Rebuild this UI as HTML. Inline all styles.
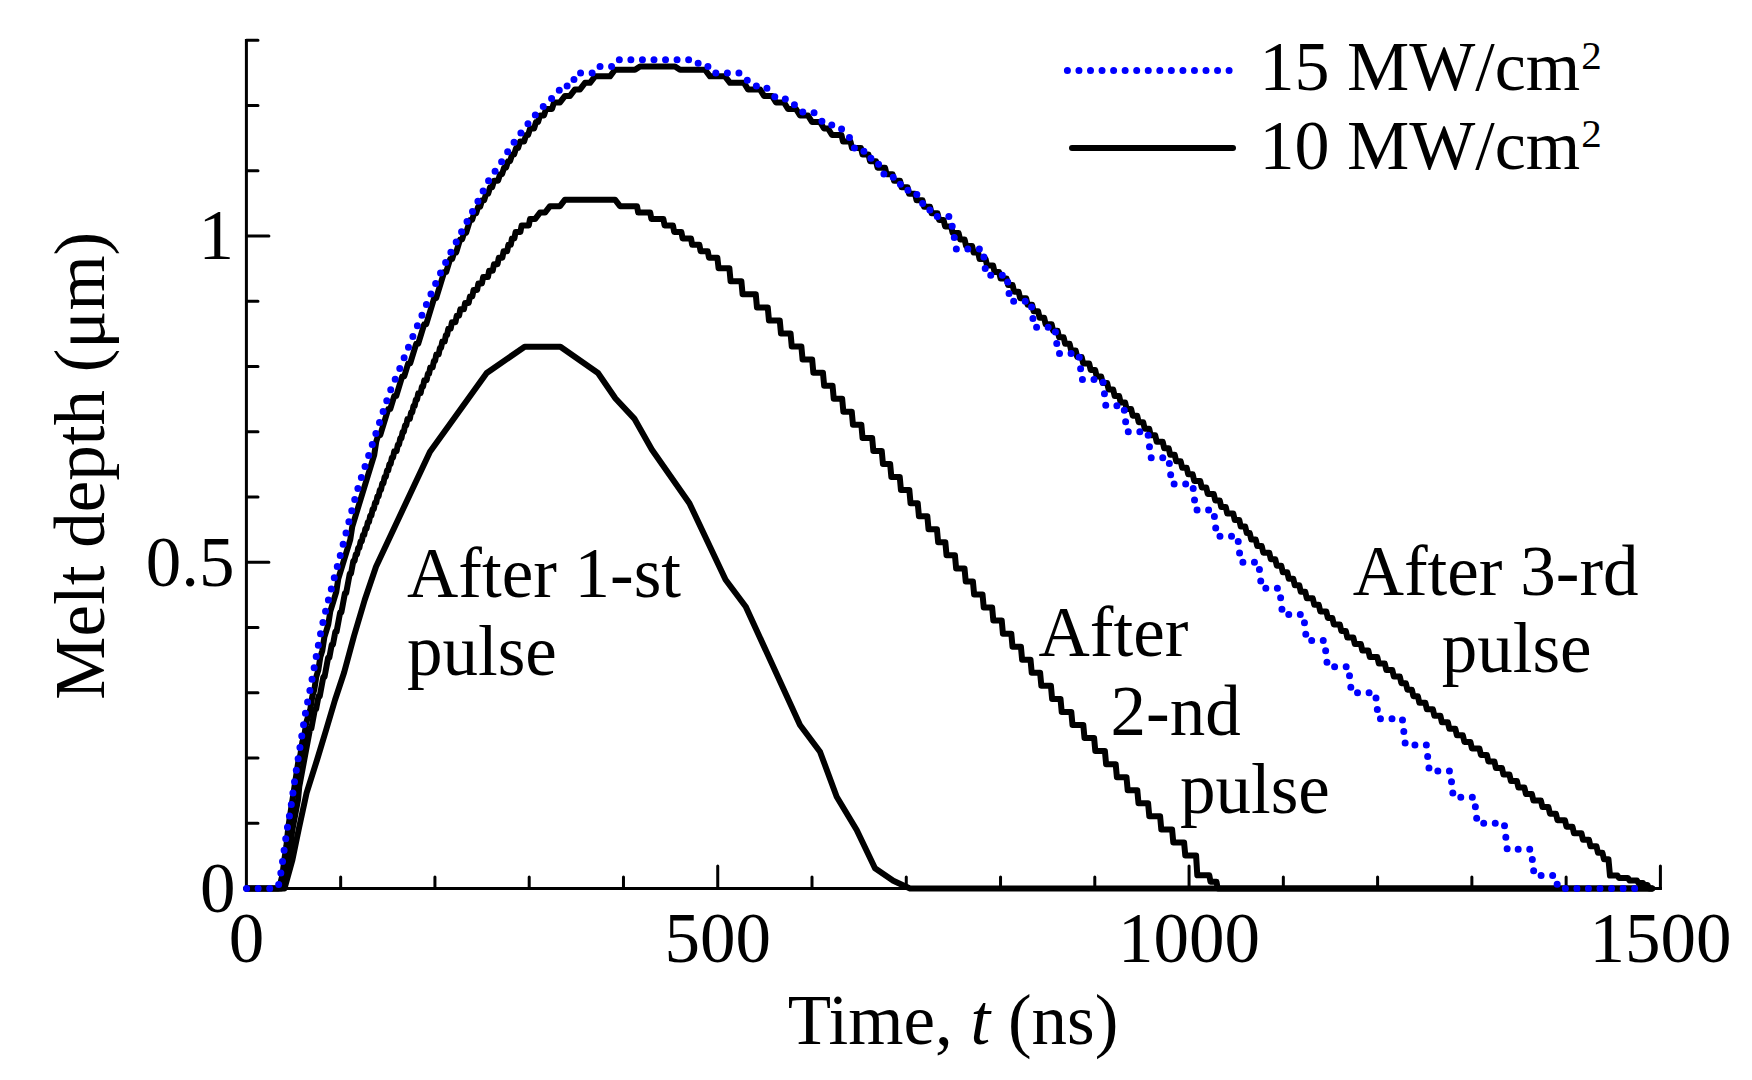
<!DOCTYPE html>
<html><head><meta charset="utf-8"><title>Melt depth vs time</title>
<style>html,body{margin:0;padding:0;background:#fff;}body{width:1752px;height:1080px;overflow:hidden;}svg{display:block;}</style>
</head><body>
<svg width="1752" height="1080" viewBox="0 0 1752 1080">
<rect width="1752" height="1080" fill="#fff"/>
<g fill="none" stroke="#000" stroke-linecap="round" stroke-linejoin="round">
<path d="M246.4 40.4V888.5H1660.4" stroke-width="3" stroke-linecap="square" stroke-linejoin="miter"/>
<path d="M246.4 823.25H258M246.4 758H258M246.4 692.75H258M246.4 627.5H258M246.4 562.25H268.9M246.4 497H258M246.4 431.75H258M246.4 366.5H258M246.4 301.25H258M246.4 236H268.9M246.4 170.75H258M246.4 105.5H258M246.4 40.25H258M340.67 888.5V876.9M434.93 888.5V876.9M529.2 888.5V876.9M623.47 888.5V876.9M717.74 888.5V866M812 888.5V876.9M906.27 888.5V876.9M1000.54 888.5V876.9M1094.8 888.5V876.9M1189.07 888.5V866M1283.34 888.5V876.9M1377.6 888.5V876.9M1471.87 888.5V876.9M1566.14 888.5V876.9M1660.4 888.5V866" stroke-width="3"/>
<path d="M246.4 888.5L284.5 888.5L292.4 860L299 828L306.6 792.8L317 760L326.1 730L335 700L344.2 672.3L354 636L364.7 600L376 566.7L430 451.7L486.7 373L524.7 346.7L560.4 346.7L598 373L615.5 398.5L634.3 418.6L651.8 449.5L689.4 503.2L725.6 579.8L745.8 606.7L800 725L820 751.7L836.7 796.7L856.7 830L875 868.3L893.3 880.7L910 888.5L1652 888.5" stroke-width="6"/>
<path d="M246.4 888.5L281.25 888.5L282.45 883.4L283.65 876.95L284.85 876.95L290.86 844.7L292.06 831.8L298.07 799.55L299.27 786.65L310.09 728.6L311.29 728.6L314.9 709.25L316.1 709.25L318.5 696.35L319.7 696.35L323.31 677L324.51 677L328.12 657.65L329.32 657.65L331.72 644.75L332.92 644.75L335.33 631.85L336.53 631.85L340.13 612.5L341.33 612.5L344.94 593.15L346.14 593.15L349.75 573.8L350.95 573.8L353.35 560.9L354.55 560.9L355.75 554.45L356.96 554.45L358.16 548L359.36 548L360.56 541.55L361.76 541.55L362.96 535.1L364.17 535.1L365.37 528.65L366.57 528.65L367.77 522.2L368.97 522.2L370.17 515.75L371.38 515.75L372.58 509.3L373.78 509.3L374.98 502.85L376.18 502.85L377.38 496.4L378.59 496.4L379.79 489.95L380.99 489.95L382.19 483.5L383.39 483.5L384.59 477.05L385.8 477.05L387 470.6L388.2 470.6L389.4 464.15L390.6 464.15L391.81 457.7L393.01 457.7L394.21 451.25L396.61 451.25L397.81 444.8L399.02 444.8L400.22 438.35L401.42 438.35L402.62 431.9L403.82 431.9L405.02 425.45L406.23 425.45L407.43 419L409.83 419L411.03 412.55L412.23 412.55L413.44 406.1L414.64 406.1L415.84 399.65L417.04 399.65L418.24 393.2L420.65 393.2L421.85 386.75L423.05 386.75L424.25 380.3L426.65 380.3L427.86 373.85L429.06 373.85L430.26 367.4L432.66 367.4L433.86 360.95L435.07 360.95L436.27 354.5L438.67 354.5L439.87 348.05L441.07 348.05L442.28 341.6L444.68 341.6L445.88 335.15L447.08 335.15L448.28 328.7L450.69 328.7L451.89 322.25L455.49 322.25L456.7 315.8L459.1 315.8L460.3 309.35L463.91 309.35L465.11 302.9L468.71 302.9L469.92 296.45L472.32 296.45L473.52 290L477.13 290L478.33 283.55L481.93 283.55L483.13 277.1L487.94 277.1L489.14 270.65L492.75 270.65L493.95 264.2L497.55 264.2L498.76 257.75L502.36 257.75L503.56 251.3L507.17 251.3L508.37 244.85L510.77 244.85L511.97 238.4L514.38 238.4L515.58 231.95L520.39 231.95L521.59 225.5L528.8 225.5L530 219.05L535 219.05L540 212.6L545 212.6L550 206.15L560 206.15L565 199.7L615 199.7L620 206.15L637 206.15L638.2 212.6L650.2 212.6L651.39 219.05L663.39 219.05L664.59 225.5L672.99 225.5L674.19 231.95L681.39 231.95L682.59 238.4L690.99 238.4L692.19 244.85L699.39 244.85L700.59 251.3L707.78 251.3L708.98 257.75L717.38 257.75L718.58 268.25L729.38 268.25L730.58 281.3L741.38 281.3L742.58 294.35L755.77 294.35L756.97 307.4L767.77 307.4L768.97 320.45L779.77 320.45L780.97 333.5L790.57 333.5L791.77 346.55L801.37 346.55L802.57 359.6L812.16 359.6L813.36 372.65L822.96 372.65L824.16 385.7L832.56 385.7L833.76 398.75L842.16 398.75L843.36 411.8L851.76 411.8L852.96 424.85L861.35 424.85L862.55 437.9L872.15 437.9L873.35 450.95L881.75 450.95L882.95 464L890.15 464L891.35 477.05L899.75 477.05L900.95 490.1L909.34 490.1L910.54 503.15L917.74 503.15L918.94 516.2L927.34 516.2L928.54 529.25L936.94 529.25L938.14 542.3L945.34 542.3L946.54 555.35L954.94 555.35L956.14 568.4L964.53 568.4L965.73 581.45L972.93 581.45L974.13 594.5L982.53 594.5L983.73 607.55L992.13 607.55L993.33 620.6L1001.73 620.6L1002.93 633.65L1011.32 633.65L1012.52 646.7L1020.92 646.7L1022.12 659.75L1030.52 659.75L1031.72 672.8L1040.12 672.8L1041.32 685.85L1050.92 685.85L1052.12 698.9L1060.52 698.9L1061.71 711.95L1071.31 711.95L1072.51 725L1083.31 725L1084.51 738.05L1094.11 738.05L1095.31 751.1L1104.91 751.1L1106.11 764.15L1115.7 764.15L1116.9 777.2L1126.5 777.2L1127.7 790.25L1137.3 790.25L1138.5 803.3L1148.1 803.3L1149.3 816.35L1160.1 816.35L1161.3 829.4L1172.09 829.4L1173.29 842.45L1184.09 842.45L1185.29 855.5L1196.09 855.5L1197.29 875.3L1209.29 875.3L1210.49 881.7L1216.48 881.7L1217.68 888.5L1652 888.5" stroke-width="6"/>
<path d="M246.4 888.5L278.36 888.5L280.36 883L282.35 875.6L284.35 859.33L286.35 846.27L288.35 826.7L298.33 761.45L300.33 754.92L302.33 741.88L304.33 735.35L306.32 722.3L310.32 709.25L312.32 696.2L314.31 689.67L316.31 676.62L318.31 670.1L320.31 657.05L322.3 650.52L324.3 637.48L328.3 624.42L330.29 611.38L336.29 591.8L338.28 578.75L350.27 539.6L352.26 526.55L374.24 454.78L376.23 441.73L378.23 435.2L380.23 435.2L388.22 409.1L390.22 409.1L394.21 396.05L396.21 396.05L402.2 376.48L404.2 376.48L408.19 363.43L410.19 363.43L416.18 343.85L418.18 343.85L424.17 324.28L426.17 324.28L434.16 298.18L436.16 298.18L444.15 272.07L446.15 272.07L450.14 259.03L452.14 259.03L454.14 252.5L456.13 252.5L460.13 239.45L462.12 239.45L464.12 232.93L466.12 232.93L470.11 219.88L472.11 219.88L474.11 213.35L476.11 213.35L478.1 206.82L480.1 206.82L482.1 200.3L484.1 200.3L486.09 193.78L488.09 193.78L490.09 187.25L492.09 187.25L494.08 180.73L498.08 180.73L500.08 174.2L502.07 174.2L504.07 167.68L506.07 167.68L508.07 161.15L510.06 161.15L512.06 154.62L514.06 154.62L516.06 148.1L518.05 148.1L520.05 141.57L524.05 141.57L526.04 135.05L528.04 135.05L530.04 128.53L534.03 128.53L536.03 122L538.03 122L540.03 115.47L544.02 115.47L546.02 108.95L552.01 108.95L554.01 102.42L560 102.42L565 95.9L570 95.9L575 89.38L580 89.38L585 82.85L590 82.85L595 76.33L610 76.33L615 69.8L635 69.8L640 66.5L675 66.5L680 69.8L705 69.8L710 76.33L725 76.33L730 82.85L744 82.85L748 89.38L760 89.38L764 95.9L772 95.9L776 102.42L784 102.42L788 108.95L796 108.95L800 115.47L808 115.47L812 122L820 122L824 128.53L828 128.53L832 135.05L841.5 135.05L843 141.57L850.51 141.57L852.01 148.1L861.01 148.1L862.51 154.62L868.52 154.62L870.02 161.15L876.02 161.15L877.52 167.68L885.03 167.68L886.53 174.2L892.53 174.2L894.03 180.73L900.04 180.73L901.54 187.25L907.54 187.25L909.04 193.78L915.05 193.78L916.55 200.3L922.55 200.3L924.05 206.82L930.06 206.82L931.56 213.35L937.56 213.35L939.06 219.88L943.56 219.88L945.06 226.4L951.07 226.4L952.57 232.93L958.57 232.93L960.07 239.45L964.58 239.45L966.08 245.98L972.08 245.98L973.58 252.5L978.09 252.5L979.59 259.03L985.59 259.03L987.09 265.55L993.09 265.55L994.6 272.07L999.1 272.07L1000.6 278.6L1006.6 278.6L1008.1 285.12L1012.61 285.12L1014.11 291.65L1018.61 291.65L1020.11 298.18L1026.11 298.18L1027.62 304.7L1032.12 304.7L1033.62 311.23L1038.12 311.23L1039.62 317.75L1044.13 317.75L1045.63 324.28L1051.63 324.28L1053.13 330.8L1057.63 330.8L1059.13 337.33L1063.64 337.33L1065.14 343.85L1069.64 343.85L1071.14 350.38L1075.65 350.38L1077.15 356.9L1081.65 356.9L1083.15 363.43L1089.15 363.43L1090.65 369.95L1095.16 369.95L1096.66 376.48L1101.16 376.48L1102.66 383L1107.16 383L1108.67 389.53L1113.17 389.53L1114.67 396.05L1119.17 396.05L1120.67 402.58L1125.18 402.58L1126.68 409.1L1131.18 409.1L1132.68 415.63L1137.18 415.63L1138.68 422.15L1143.19 422.15L1144.69 428.68L1149.19 428.68L1150.69 435.2L1155.19 435.2L1156.7 441.73L1162.7 441.73L1164.2 448.25L1168.7 448.25L1170.2 454.78L1174.71 454.78L1176.21 461.3L1180.71 461.3L1182.21 467.83L1186.71 467.83L1188.21 474.35L1192.72 474.35L1194.22 480.88L1200.22 480.88L1201.72 487.4L1206.23 487.4L1207.73 493.93L1213.73 493.93L1215.23 500.45L1219.73 500.45L1221.23 506.98L1225.74 506.98L1227.24 513.5L1233.24 513.5L1234.74 520.02L1239.25 520.02L1240.75 526.55L1245.25 526.55L1246.75 533.08L1249.75 533.08L1251.25 539.6L1255.76 539.6L1257.26 546.12L1261.76 546.12L1263.26 552.65L1269.26 552.65L1270.77 559.17L1275.27 559.17L1276.77 565.7L1281.27 565.7L1282.77 572.23L1287.28 572.23L1288.78 578.75L1293.28 578.75L1294.78 585.27L1299.28 585.27L1300.78 591.8L1305.29 591.8L1306.79 598.32L1312.79 598.32L1314.29 604.85L1318.79 604.85L1320.3 611.38L1326.3 611.38L1327.8 617.9L1332.3 617.9L1333.8 624.42L1339.81 624.42L1341.31 630.95L1345.81 630.95L1347.31 637.48L1353.32 637.48L1354.82 644L1360.82 644L1362.32 650.52L1368.33 650.52L1369.83 657.05L1377.33 657.05L1378.83 663.57L1384.84 663.57L1386.34 670.1L1392.34 670.1L1393.84 676.62L1399.84 676.62L1401.35 683.15L1405.85 683.15L1407.35 689.67L1411.85 689.67L1413.35 696.2L1417.86 696.2L1419.36 702.73L1425.36 702.73L1426.86 709.25L1432.87 709.25L1434.37 715.77L1440.37 715.77L1441.87 722.3L1447.87 722.3L1449.38 728.83L1455.38 728.83L1456.88 735.35L1462.88 735.35L1464.38 741.88L1470.39 741.88L1471.89 748.4L1479.39 748.4L1480.89 754.92L1486.9 754.92L1488.4 761.45L1494.4 761.45L1495.9 767.98L1501.91 767.98L1503.41 774.5L1509.41 774.5L1510.91 781.02L1516.92 781.02L1518.42 787.55L1524.42 787.55L1525.92 794.08L1531.93 794.08L1533.43 800.6L1540.93 800.6L1542.43 807.12L1548.44 807.12L1549.94 813.65L1555.94 813.65L1557.44 820.17L1564.95 820.17L1566.45 826.7L1572.45 826.7L1573.95 833.23L1581.46 833.23L1582.96 839.75L1588.96 839.75L1590.46 846.27L1596.47 846.27L1597.97 852.8L1602.47 852.8L1603.97 859.33L1608.47 859.33L1609.97 875.6L1617.48 875.6L1618.98 878L1627.99 878L1629.49 880.6L1636.99 880.6L1638.49 883L1642.99 883L1644.5 885L1647.5 885L1649 888.5L1652 888.5" stroke-width="6"/>
<path d="M246.6 888.5L275.64 888.5L276.64 888.48L277.64 887.11L278.64 884.6L279.64 880.1L280.64 874.23L281.64 867.87L282.65 860.7L283.65 853.39L284.65 846.37L285.65 839.31L286.65 832.44L287.65 826.01L288.65 820.16L289.65 814.53L290.66 808.7L291.66 802.23L292.66 795L293.66 787.59L294.66 780.66L295.66 774.22L296.66 768L297.67 761.8L301.67 736.56L302.67 730.12L303.67 723.66L304.67 717.46L305.68 711.77L306.68 706.52L307.68 701.52L308.68 696.61L309.68 691.63L310.68 686.46L311.68 681.16L312.68 675.77L313.69 670.32L315.69 659.35L316.69 653.89L317.69 648.5L318.69 643.19L319.69 638L320.69 632.97L321.7 628.11L322.7 623.46L323.7 619.03L324.7 614.78L325.7 610.67L326.7 606.67L327.7 602.76L328.7 598.9L330.71 591.22L331.71 587.36L332.71 583.55L333.71 579.8L335.71 572.38L337.72 564.98L338.72 561.24L339.72 557.47L340.72 553.64L341.72 549.77L343.72 541.96L345.73 534.11L346.73 530.21L347.73 526.34L349.73 518.66L351.73 510.92L352.74 507.07L353.74 503.26L354.74 499.52L355.74 495.86L356.74 492.31L357.74 488.89L358.74 485.58L359.74 482.38L360.75 479.25L361.75 476.18L362.75 473.17L365.75 464.25L366.75 461.27L367.75 458.25L372.76 442.97L374.76 436.88L376.77 430.81L379.77 421.78L381.77 415.69L383.78 409.58L384.78 406.56L385.78 403.57L386.78 400.63L387.78 397.76L388.78 394.97L389.78 392.27L390.78 389.68L391.79 387.18L392.79 384.75L393.79 382.39L394.79 380.07L397.79 373.19L398.79 370.86L399.8 368.49L400.8 366.07L402.8 361.16L407.81 348.74L409.81 343.81L410.81 341.37L411.81 338.95L412.81 336.56L414.81 331.85L419.82 320.2L421.82 315.49L423.83 310.72L426.83 303.54L427.83 301.17L428.83 298.83L429.83 296.51L431.84 291.94L433.84 287.42L435.84 282.96L436.84 280.76L437.84 278.59L438.85 276.44L439.85 274.32L440.85 272.23L441.85 270.16L443.85 266.09L445.85 262.08L447.86 258.13L449.86 254.22L452.86 248.42L458.87 236.91L460.87 233.1L462.88 229.33L465.88 223.74L471.89 212.6L474.89 207L476.89 203.22L478.9 199.41L479.9 197.45L480.9 195.44L482.9 191.35L483.9 189.32L484.9 187.33L485.91 185.4L486.91 183.55L487.91 181.82L488.91 180.18L489.91 178.61L490.91 177.1L491.91 175.64L492.91 174.22L496.92 168.66L497.92 167.25L498.92 165.81L499.92 164.32L500.92 162.78L501.93 161.2L502.93 159.59L506.93 153.03L507.93 151.41L508.93 149.81L509.94 148.25L510.94 146.74L511.94 145.27L512.94 143.82L514.94 140.99L516.95 138.22L518.95 135.52L520.95 132.86L522.95 130.24L525.96 126.35L527.96 123.79L529.96 121.27L531.96 118.81L532.97 117.61L533.97 116.43L534.97 115.27L535.97 114.15L537.97 111.95L539.97 109.83L541.98 107.77L543.98 105.77L545.98 103.81L547.98 101.89L549.99 100.01L551.99 98.16L553.99 96.34L555.99 94.56L558 92.81L559 91.95L560 85.95L572 85.95L576 72.9L596 72.9L600 66.4L612 66.4L616 59.7L696 59.7L700 66.4L708 66.4L712 72.9L740.36 72.9L752.55 85.95L764.73 85.95L776.91 99L789.09 99L801.27 112.05L813.45 112.05L825.64 125.1L837.82 125.1L850 138.15L855.91 151.2L867.73 151.2L873.64 164.25L879.55 164.25L885.45 177.3L897.27 177.3L903.18 190.35L915 190.35L920.91 203.4L926.82 203.4L932.73 216.45L950.45 216.45L956.36 249.05L983 249.05L985.99 275.15L1006.96 275.15L1009.95 301.25L1030.92 301.25L1033.92 327.35L1054.89 327.35L1057.88 353.45L1078.85 353.45L1081.85 379.55L1102.82 379.55L1105.81 405.65L1123.78 405.65L1126.78 431.75L1147.75 431.75L1150.74 457.85L1168.72 457.85L1171.71 483.95L1192.68 483.95L1195.68 510.05L1213.65 510.05L1216.64 536.15L1237.61 536.15L1240.61 562.25L1258.58 562.25L1261.58 588.35L1279.55 588.35L1282.55 614.45L1303.51 614.45L1306.51 640.55L1324.48 640.55L1327.48 666.65L1348.45 666.65L1351.44 692.75L1375.41 692.75L1378.4 718.85L1402.36 718.85L1405.36 744.95L1426.33 744.95L1429.32 771.05L1450.29 771.05L1453.29 797.15L1474.26 797.15L1477.25 823.25L1504.21 823.25L1507.21 849.35L1531.17 849.35L1534.17 875.45L1555.14 875.45L1558.13 888.5L1645 888.5" stroke="#0000ff" stroke-width="7" stroke-dasharray="0 11.55"/>
<path d="M1067.4 70.4H1229.3" stroke="#0000ff" stroke-width="7" stroke-dasharray="0 11.55"/>
<path d="M1072 148H1233" stroke-width="6"/>
</g>
<g font-family="'Liberation Serif','Times New Roman',serif" font-size="71" fill="#000">
<text x="235.5" y="912" text-anchor="end">0</text>
<text x="234.5" y="586" text-anchor="end">0.5</text>
<text x="234" y="259" text-anchor="end">1</text>
<text x="246.4" y="962" text-anchor="middle">0</text>
<text x="717.7" y="962" text-anchor="middle">500</text>
<text x="1189" y="962" text-anchor="middle">1000</text>
<text x="1660.4" y="962" text-anchor="middle">1500</text>
<text x="953" y="1043.5" text-anchor="middle">Time, <tspan font-style="italic">t</tspan> (ns)</text>
<text transform="translate(104 465.7) rotate(-90)" text-anchor="middle">Melt depth (μm)</text>
<text x="1259.5" y="90" font-size="70">15 MW/cm<tspan font-size="41" dx="1" dy="-21.5">2</tspan></text>
<text x="1259.5" y="168.5" font-size="70">10 MW/cm<tspan font-size="41" dx="1" dy="-21.5">2</tspan></text>
<text x="407" y="596.5">After 1-st</text>
<text x="407" y="675.3">pulse</text>
<text x="1038.5" y="656.4">After</text>
<text x="1110.5" y="734.6">2-nd</text>
<text x="1180" y="812.9">pulse</text>
<text x="1352.7" y="594.8">After 3-rd</text>
<text x="1441.7" y="672.3">pulse</text>
</g>
</svg>
</body></html>
